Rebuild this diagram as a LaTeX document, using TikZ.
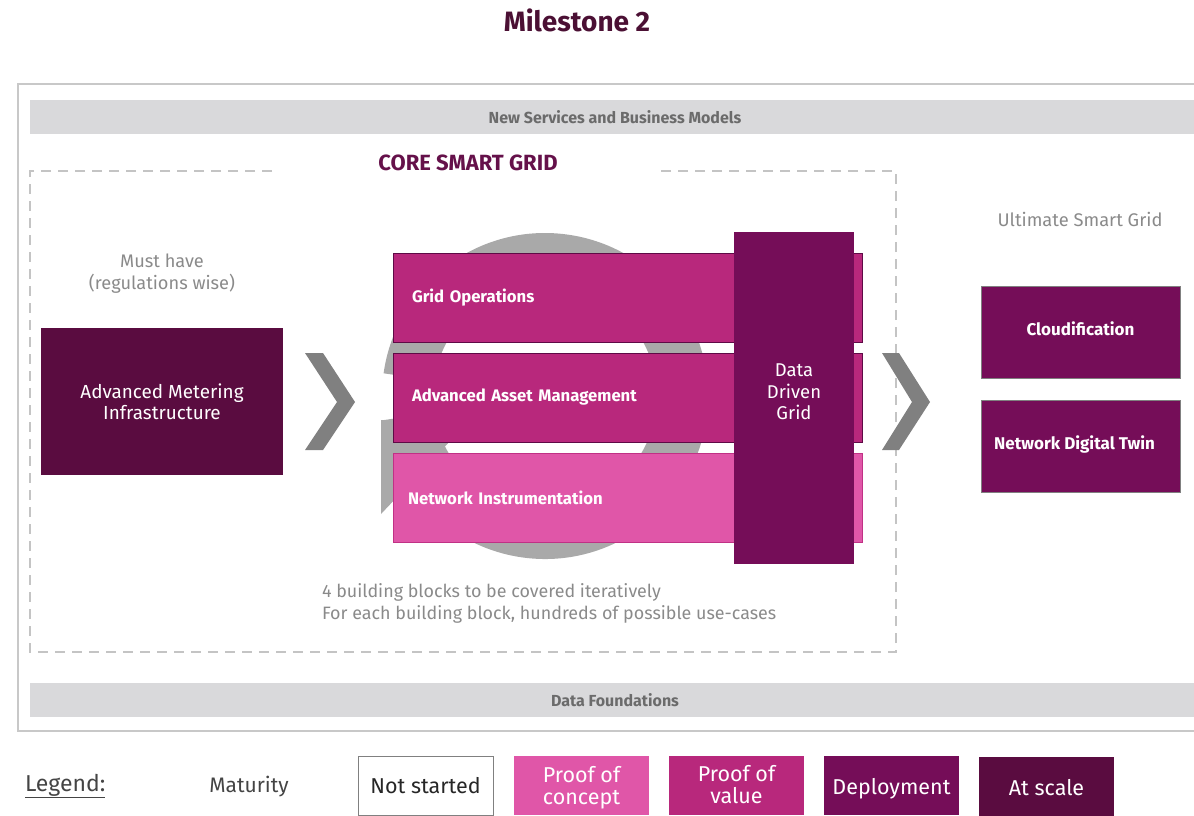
\documentclass[tikz,border=0pt]{standalone}
\usepackage{fontspec}
\setmainfont{Fira Sans}
\definecolor{plumdark}{HTML}{5A0C40}
\definecolor{plum}{HTML}{750D58}
\definecolor{mgt}{HTML}{B8287C}
\definecolor{pinkc}{HTML}{E056A8}
\definecolor{bandgrey}{HTML}{D9D9DB}
\definecolor{framegrey}{HTML}{C8C8C8}
\definecolor{dashgrey}{HTML}{C4C4C4}
\definecolor{ringgrey}{HTML}{A9A9A9}
\definecolor{chevgrey}{HTML}{808080}
\definecolor{txtgrey}{HTML}{8A8A8A}
\definecolor{bandtxt}{HTML}{6B6B6B}
\definecolor{titlec}{HTML}{4B1034}
\definecolor{corec}{HTML}{65114A}
\definecolor{legtxt}{HTML}{444444}
\tikzset{
  every node/.style={inner sep=0pt, outer sep=0pt},
  fs/.style n args={2}{font=\fontsize{#1}{#2}\selectfont},
  band/.style={fill=bandgrey, minimum width=1170pt, minimum height=34pt, anchor=north west,
    text=bandtxt, font=\fontsize{16}{19}\selectfont\bfseries},
  blk/.style={minimum height=89pt, text width=431pt, inner xsep=19pt, anchor=north west,
    align=left, text=white, font=\fontsize{16.7}{20}\selectfont\bfseries},
  usg/.style={fill=plum, draw=chevgrey, line width=0.8pt, minimum width=199pt, minimum height=92pt,
    anchor=north west, text=white, font=\fontsize{17}{20}\selectfont\bfseries},
  legbox/.style={minimum width=135pt, minimum height=59pt, anchor=north west, align=center,
    text=white, font=\fontsize{21.5}{21.5}\selectfont},
  greytext/.style={text=txtgrey, align=center},
  chevron/.style={fill=chevgrey}
}
\newcommand{\shiftv}[2]{\raisebox{#1}[\height][\depth]{#2}}
\newcommand{\twolines}[3]{\shiftv{#1}{\begin{tabular}{@{}c@{}}#2\\#3\end{tabular}}}
\begin{document}
\begin{tikzpicture}[x=1pt,y=-1pt]
\useasboundingbox (0,0) rectangle (1194,815);
% title
\node[text=titlec, font=\fontsize{28}{32}\selectfont\bfseries] (title) at (577,20) {Milestone 2};
% outer frame
\draw[framegrey, line width=1.6pt] (1210,84) -- (18,84) -- (18,731) -- (1210,731);
% bands
\node[band] (nsbm) at (30,100) {New Services and Business Models};
\node[band] (df) at (30,683) {Data Foundations};
% dashed core frame
\draw[dashgrey, line width=2pt, dash pattern=on 10pt off 7pt] (272,171) -- (30,171) -- (30,652) -- (896,652) -- (896,171) -- (656,171);
\node[text=corec, font=\fontsize{22}{26}\selectfont\bfseries] (core) at (468,163) {CORE SMART GRID};
% left
\node[greytext, fs={18.2}{22}] (must) at (162,274) {Must have\\(regulations wise)};
\node[fill=plumdark, minimum width=242pt, minimum height=147pt, anchor=north west, align=center,
  text=white, font=\fontsize{18.9}{21}\selectfont] (ami) at (41,328) {Advanced Metering\\Infrastructure};
\fill[chevron] (305,353) -- (323,353) -- (355,402) -- (323,450) -- (305,450) -- (337,402) -- cycle;
% circular arrow behind blocks
\fill[ringgrey, shift={(545,396)}] (188:163) arc[start angle=188, end angle=531.5, radius=163]
  -- (531.5:112) arc[start angle=531.5, end angle=188, radius=112] -- cycle;
\fill[ringgrey] (381,420) -- (470,420) -- (381,514) -- cycle;
% building blocks
\node[blk, fill=mgt, draw=plum!80!black, line width=0.8pt] (go) at (393,253) {Grid Operations};
\node[blk, fill=mgt, draw=plum!80!black, line width=0.8pt] (aam) at (393,353) {Advanced Asset Management};
\node[blk, fill=pinkc, draw=mgt!80!pinkc, line width=0.8pt, inner xsep=15pt, text width=439pt] (ni) at (393,453) {Network Instrumentation};
\node[fill=plum, minimum width=120pt, minimum height=332pt, anchor=north west] (ddg) at (734,232) {};
\node[text=white, align=center, font=\fontsize{18.5}{21.5}\selectfont] (ddgt) at (794,392) {Data\\Driven\\Grid};
\node[greytext, fs={17.9}{22}, align=left, anchor=west] (notes) at (322,603) {4 building blocks to be covered iteratively\\For each building block, hundreds of possible use-cases};
% right
\fill[chevron] (882,353) -- (899,353) -- (930,402) -- (899,450) -- (882,450) -- (912,402) -- cycle;
\node[greytext, fs={18.3}{22}] (usg) at (1080,219) {Ultimate Smart Grid};
\node[usg] (cloud) at (981,286) {\shiftv{3pt}{Cloudification}};
\node[usg] (twin) at (981,400) {\shiftv{2pt}{Network Digital Twin}\hspace*{12pt}};
% legend
\node[text=legtxt, font=\fontsize{23}{26}\selectfont, anchor=west] (leg) at (25,786) {\underline{Legend:}};
\node[text=legtxt, font=\fontsize{21}{24}\selectfont] (mat) at (249,787) {Maturity};
\node[legbox, draw=chevgrey, line width=0.8pt, fill=white, text=black!85] (ns) at (358,756) {Not started};
\node[legbox, fill=pinkc] (poc) at (514,756) {\twolines{-3pt}{Proof of}{concept}};
\node[legbox, fill=mgt] (pov) at (669,756) {\twolines{-2pt}{Proof of}{value}};
\node[legbox, fill=plum] (dep) at (824,756) {\shiftv{-3pt}{Deployment}};
\node[legbox, fill=plumdark] (scale) at (979,757) {\shiftv{-1pt}{At scale}};
\end{tikzpicture}
\end{document}
